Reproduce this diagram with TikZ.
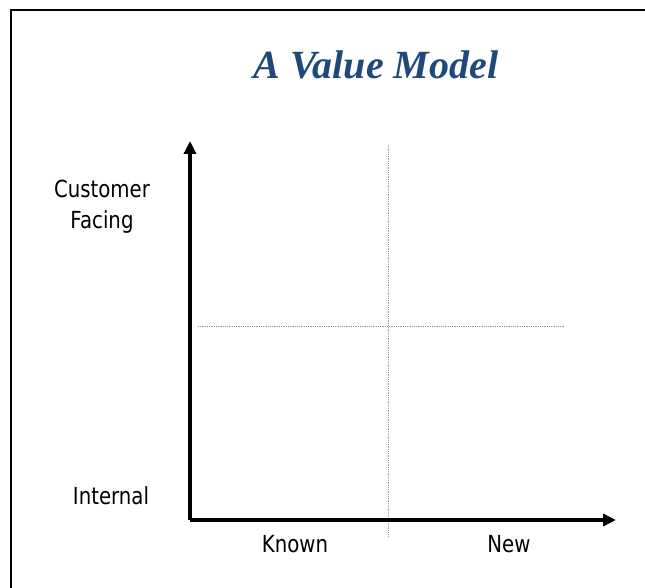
\documentclass[tikz,border=0pt]{standalone}
\usepackage{fontspec}
\setmainfont{DejaVu Sans}[FakeStretch=0.84]
\newfontfamily\titlefont{Liberation Serif}
\usetikzlibrary{arrows.meta}
\definecolor{titleblue}{RGB}{31,73,125}
\begin{document}
\begin{tikzpicture}[x=1pt,y=-1pt,
  axis/.style={line width=3.5pt,-{Triangle[length=13pt,width=12pt]}},
  divider/.style={gray!80,line width=0.8pt,densely dotted},
  lbl/.style={font=\fontsize{23.5}{31}\selectfont,inner sep=0pt,align=center},
  frame/.style={line width=2pt,black}]
\useasboundingbox (0,0) rectangle (645,588);
% page frame running off the right and bottom edges
\coordinate (fbl) at (11,590);
\coordinate (ftl) at (11,10);
\coordinate (ftr) at (647,10);
\draw[frame] (fbl) -- (ftl) -- (ftr);
% title
\node[font=\titlefont\bfseries\itshape\fontsize{40}{46}\selectfont,text=titleblue] (title) at (376,65) {A Value Model};
% quadrant dividers
\coordinate (vtop) at (388,145);
\coordinate (vbot) at (388,537);
\coordinate (hl) at (198,326);
\coordinate (hr) at (565,326);
\draw[divider] (vtop) -- (vbot);
\draw[divider] (hl) -- (hr);
% axes
\coordinate (origin) at (190,520);
\coordinate (ytip) at (190,141);
\coordinate (xtip) at (616,520);
\draw[axis] (origin) -- (ytip);
\draw[axis] (origin) -- (xtip);
% axis labels
\node[lbl] (cf) at (102,207) {Customer\\Facing};
\node[lbl] (int) at (111,496) {Internal};
\node[lbl] (known) at (295,544) {Known};
\node[lbl] (new) at (509,544) {New};
\end{tikzpicture}
\end{document}
